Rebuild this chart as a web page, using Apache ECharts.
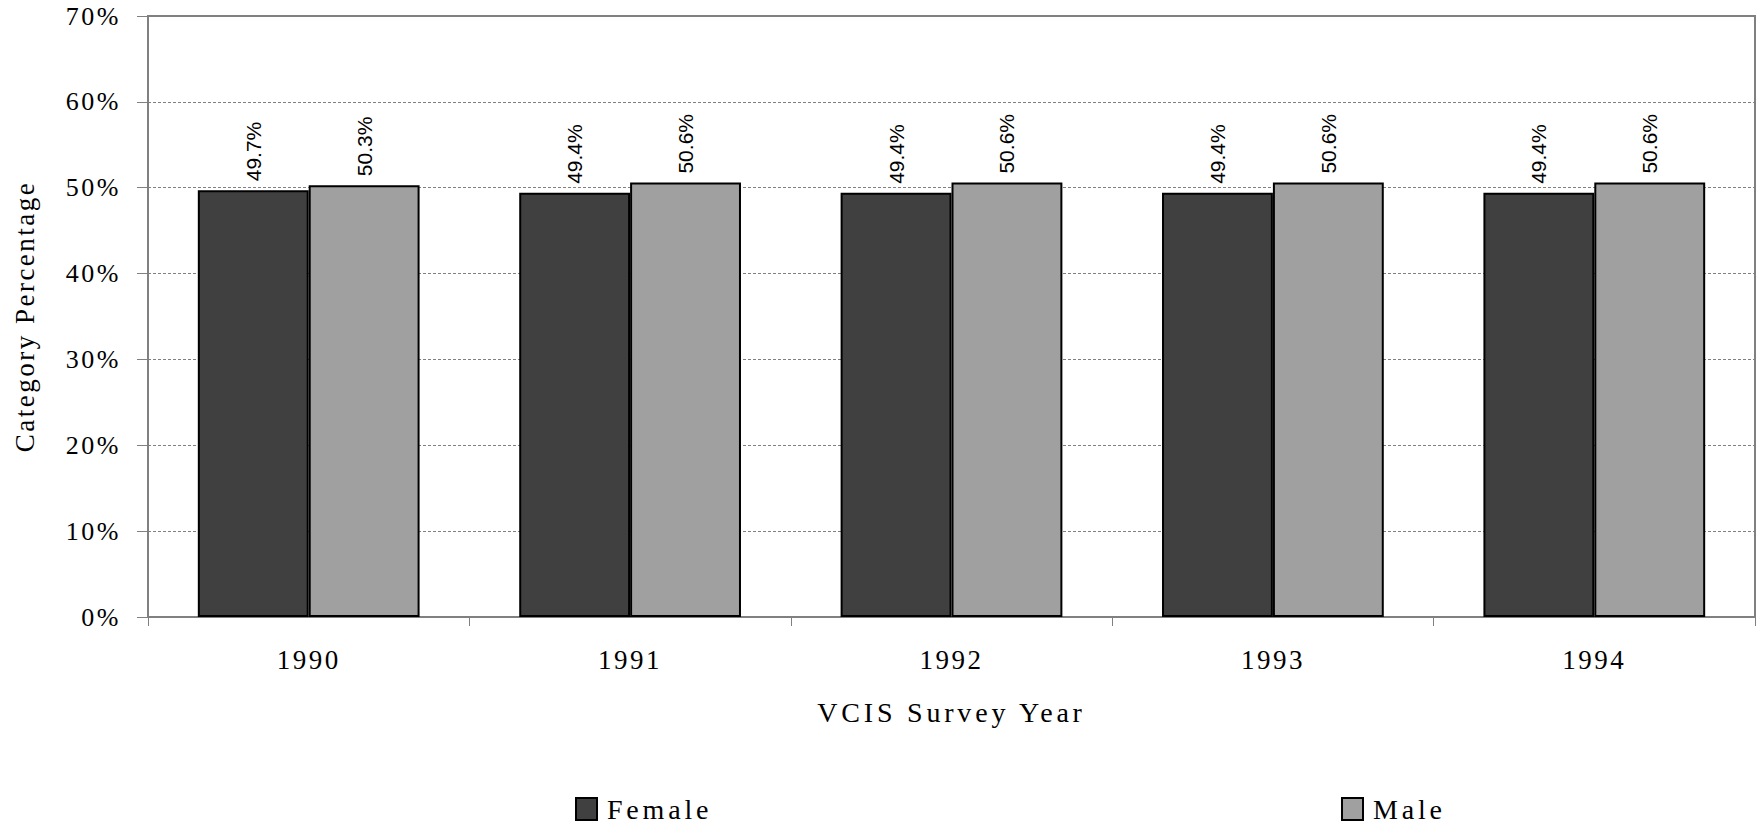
<!DOCTYPE html>
<html>
<head>
<meta charset="utf-8">
<script src="https://cdn.jsdelivr.net/npm/echarts@6/dist/echarts.min.js"></script>
<style>
  html, body { margin: 0; padding: 0; background: #fff; }
  #chart { width: 1756px; height: 828px; }
  #chart text[style*="Serif"] { letter-spacing: 2.5px; }
  #chart text[style*="Serif"][style*="28px"] { letter-spacing: 3.8px; }
</style>
</head>
<body>
<div id="chart"></div>
<script>
const categories = ['1990', '1991', '1992', '1993', '1994'];
const femaleValues = [49.7, 49.4, 49.4, 49.4, 49.4];
const maleValues = [50.3, 50.6, 50.6, 50.6, 50.6];
const yTickMin = 0, yTickMax = 70, yTickStep = 10;

const serif = '"Liberation Serif", "Times New Roman", serif';
const sans = '"Liberation Sans", Arial, sans-serif';
const gray = '#808080';

const chart = echarts.init(document.getElementById('chart'), null, { renderer: 'svg' });

const labelCfg = {
  show: true,
  position: 'top',
  rotate: 90,
  align: 'left',
  verticalAlign: 'middle',
  distance: 9,
  fontFamily: sans,
  fontSize: 21,
  color: '#000',
  formatter: p => p.value.toFixed(1) + '%'
};

const legendBase = {
  top: 795, padding: 0,
  icon: 'rect',
  itemWidth: 21, itemHeight: 22,
  itemStyle: { borderColor: '#000', borderWidth: 2 },
  textStyle: { fontFamily: serif, fontSize: 28, color: '#000', padding: [0, 0, 0, 5] }
};

chart.setOption({
  animation: false,
  backgroundColor: '#fff',
  grid: {
    left: 148, top: 16, right: 1, bottom: 211,
    show: true, borderColor: gray, borderWidth: 2, backgroundColor: 'transparent'
  },
  legend: [
    Object.assign({}, legendBase, { data: ['Female'], left: 575 }),
    Object.assign({}, legendBase, { data: ['Male'], left: 1341 })
  ],
  xAxis: {
    type: 'category',
    data: categories,
    name: 'VCIS Survey Year',
    nameLocation: 'middle',
    nameGap: 81,
    nameTextStyle: { fontFamily: serif, fontSize: 28, color: '#000' },
    axisLine: { show: true, lineStyle: { color: gray, width: 2 } },
    axisTick: { show: true, length: 9, lineStyle: { color: gray, width: 1 } },
    axisLabel: { fontFamily: serif, fontSize: 27, color: '#000', margin: 29 }
  },
  yAxis: {
    type: 'value',
    min: yTickMin, max: yTickMax, interval: yTickStep,
    name: 'Category Percentage',
    nameLocation: 'middle',
    nameGap: 110,
    nameTextStyle: { fontFamily: serif, fontSize: 27, color: '#000' },
    axisLine: { show: true, lineStyle: { color: gray, width: 2 } },
    axisTick: { show: true, length: 11, lineStyle: { color: gray, width: 1 } },
    axisLabel: { fontFamily: serif, fontSize: 26, color: '#000', margin: 27, formatter: v => v + '%' },
    splitLine: { show: true, lineStyle: { color: gray, width: 1, type: [3, 2] } }
  },
  series: [
    {
      name: 'Female', type: 'bar', data: femaleValues,
      barGap: '0%', barCategoryGap: '31%',
      itemStyle: { color: '#404040', borderColor: '#000', borderWidth: 2 },
      label: labelCfg
    },
    {
      name: 'Male', type: 'bar', data: maleValues,
      barGap: '0%', barCategoryGap: '31%',
      itemStyle: { color: '#a0a0a0', borderColor: '#000', borderWidth: 2 },
      label: labelCfg
    }
  ]
});
</script>
</body>
</html>
